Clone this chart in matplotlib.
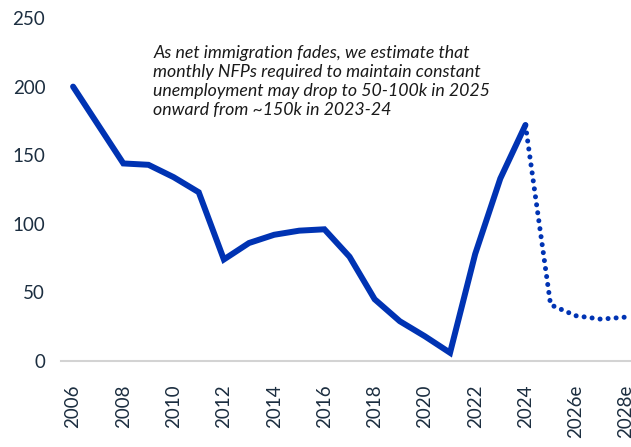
import matplotlib.pyplot as plt

# monthly NFPs needed to keep unemployment constant (thousands)
years = ['2006', '2007', '2008', '2009', '2010', '2011', '2012', '2013',
         '2014', '2015', '2016', '2017', '2018', '2019', '2020', '2021',
         '2022', '2023', '2024', '2025e', '2026e', '2027e', '2028e']
actual = [200, 172, 144, 143, 134, 123, 74, 86, 92, 95, 96, 76, 45, 29, 18,
          6, 78, 133, 172]
forecast = [172, 41, 33, 30.5, 32]   # 2024 .. 2028e

blue = '#0033B3'
txt = '#1c2e40'

plt.rcParams['font.family'] = ['Lato', 'DejaVu Sans']

fig = plt.figure(figsize=(6.31, 4.47), dpi=100)
ax = fig.add_axes([0.0959, 0.1924, 0.9041, 0.7673])

xa = list(range(len(actual)))
xf = list(range(len(actual) - 1, len(years)))
ax.plot(xa, actual, color=blue, lw=4.3, solid_joinstyle='miter', solid_capstyle='round')
ax.plot(xf, forecast, color=blue, lw=3.6, linestyle=(0, (0.01, 1.6)),
        dash_capstyle='round')

ax.set_xlim(-0.5, 22.2)
ax.set_ylim(0, 250)
ax.set_yticks([0, 50, 100, 150, 200, 250])
ax.set_xticks(range(0, len(years), 2))
ax.set_xticklabels(years[::2], rotation=90)
ax.tick_params(axis='both', length=0, labelsize=13.5, labelcolor=txt)
ax.tick_params(axis='x', pad=17)
ax.tick_params(axis='y', pad=11)

for s in ['top', 'right', 'left']:
    ax.spines[s].set_visible(False)
ax.spines['bottom'].set_color('#d3d3d3')
ax.spines['bottom'].set_linewidth(1.5)

ax.text(3.2, 230,
        'As net immigration fades, we estimate that\n'
        'monthly NFPs required to maintain constant\n'
        'unemployment may drop to 50-100k in 2025\n'
        'onward from ~150k in 2023-24',
        fontsize=12.8, style='italic', color='#1a1a1a', va='top', ha='left',
        linespacing=1.22)

fig.savefig('out.png', dpi=100)
